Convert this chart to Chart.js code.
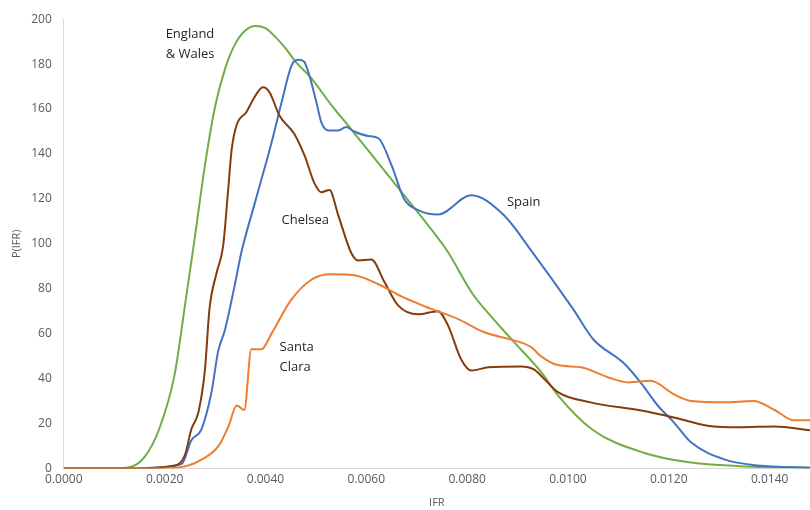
<!DOCTYPE html>
<html>
<head>
<meta charset="utf-8">
<script src="https://cdn.jsdelivr.net/npm/chart.js@4/dist/chart.umd.min.js"></script>
<style>
  body { margin: 0; background: #fff; }
  #wrap { width: 810px; height: 510px; }
</style>
</head>
<body>
<div id="wrap"><canvas id="ifrChart" width="810" height="510"></canvas></div>
<script>
// England & Wales
const ewX = [0, 0.0010, 0.0013, 0.0016, 0.0019, 0.0022, 0.0024, 0.0026, 0.0028, 0.0030, 0.0032, 0.0034, 0.0036, 0.0038, 0.0040, 0.0042, 0.0044, 0.0046, 0.0049, 0.0053, 0.0057, 0.0062, 0.0067, 0.0072, 0.0076, 0.0081, 0.0085, 0.0089, 0.0095, 0.0098, 0.0105, 0.0115, 0.0124, 0.0134, 0.0148];
const ewY = [0, 0, 0.5, 5, 18, 42, 72, 103, 135, 161, 178, 189, 195, 197, 196, 192, 187, 181, 174, 162, 151, 137, 123, 109, 97, 78, 67, 57, 42, 32.5, 17, 7, 2.7, 1, 0.3];

// Spain
const spainX = [0, 0.0015, 0.0019, 0.00234, 0.00253, 0.00273, 0.00293, 0.00306, 0.0032, 0.00339, 0.00352, 0.0038, 0.00412, 0.00432, 0.00452, 0.00467, 0.00477, 0.00487, 0.00501, 0.00511, 0.00525, 0.00545, 0.0056, 0.00576, 0.00604, 0.00624, 0.0065, 0.00675, 0.00703, 0.00742, 0.00808, 0.00873, 0.00927, 0.0101, 0.0105, 0.0111, 0.01145, 0.01178, 0.0121, 0.01244, 0.0131, 0.01376, 0.0148];
const spainY = [0, 0, 0.5, 2, 12.5, 17.4, 34, 52, 62, 81.5, 96, 119, 145, 163, 179.5, 182, 181, 175, 163, 154, 150.5, 150.5, 152, 150, 148, 147, 135, 120, 115, 113, 121.6, 112.7, 97, 71, 57.5, 47, 38, 28, 20.5, 11.6, 4, 1.3, 0.3];

// Chelsea
const chelseaX = [0, 0.0014, 0.0022, 0.0024, 0.00253, 0.00267, 0.0028, 0.00289, 0.00303, 0.00316, 0.00326, 0.00333, 0.00343, 0.00362, 0.00375, 0.00395, 0.00408, 0.00428, 0.00457, 0.00478, 0.00497, 0.00511, 0.00527, 0.00544, 0.0057, 0.00584, 0.0061, 0.00636, 0.00663, 0.00703, 0.00742, 0.00762, 0.00788, 0.00808, 0.00842, 0.00907, 0.00933, 0.00946, 0.0098, 0.01045, 0.01145, 0.0121, 0.01277, 0.0134, 0.0141, 0.0148];
const chelseaY = [0, 0, 1.3, 5.8, 17.4, 25, 44, 71, 87, 99, 124, 142, 153, 158.6, 164, 169.7, 167.5, 157, 149, 139, 127, 123, 124, 113, 96, 92.6, 93, 83, 72.6, 68.6, 70, 63.7, 48.6, 43.6, 45, 45.4, 44, 41.4, 34, 29.4, 25.8, 22.7, 19, 18.3, 18.7, 17];

// Santa Clara
const santaX = [0, 0.0020, 0.00247, 0.00274, 0.00307, 0.00327, 0.00343, 0.00358, 0.00372, 0.00392, 0.00412, 0.00451, 0.00491, 0.0053, 0.00576, 0.00624, 0.00675, 0.00729, 0.00782, 0.00834, 0.00893, 0.00927, 0.00946, 0.0098, 0.01026, 0.0108, 0.0112, 0.01164, 0.0121, 0.01244, 0.0131, 0.01368, 0.0141, 0.01448, 0.0148];
const santaY = [0, 0, 1.3, 4, 10, 19, 28, 26, 53, 53, 60, 75, 84, 86.4, 86, 82, 76, 71, 66.5, 60.6, 57, 54, 50, 46, 45, 40.5, 38.3, 39, 33, 30, 29.4, 30, 26, 21.4, 21.4];

// text labels next to the curves
const noteLines = [
  ['England', 0.00202, 193.3],
  ['& Wales', 0.00202, 184.4],
  ['Spain', 0.00879, 118.5],
  ['Chelsea', 0.00432, 110.5],
  ['Santa', 0.00428, 53.9],
  ['Clara', 0.00428, 45]
];

function toPoints(xs, ys) {
  return xs.map((x, i) => ({ x: x, y: ys[i] }));
}

function makeSet(label, xs, ys, color) {
  return {
    label: label,
    data: toPoints(xs, ys),
    borderColor: color,
    backgroundColor: color,
    borderWidth: 2,
    pointRadius: 0,
    cubicInterpolationMode: 'monotone',
    fill: false
  };
}

const curveNotes = {
  id: 'curveNotes',
  afterDatasetsDraw(chart) {
    const ctx = chart.ctx;
    const xs = chart.scales.x, ys = chart.scales.y;
    ctx.save();
    ctx.font = '13px "Open Sans"';
    ctx.fillStyle = '#262626';
    ctx.textAlign = 'left';
    ctx.textBaseline = 'middle';
    noteLines.forEach(n => {
      ctx.fillText(n[0], xs.getPixelForValue(n[1]), ys.getPixelForValue(n[2]));
    });
    ctx.restore();
  }
};

const tickFont = { family: '"Open Sans"', size: 12 };

new Chart(document.getElementById('ifrChart').getContext('2d'), {
  type: 'line',
  data: {
    datasets: [
      makeSet('Santa Clara', santaX, santaY, '#ed7d31'),
      makeSet('Chelsea', chelseaX, chelseaY, '#843c0c'),
      makeSet('Spain', spainX, spainY, '#4472c4'),
      makeSet('England & Wales', ewX, ewY, '#70ad47')
    ]
  },
  options: {
    responsive: false,
    animation: false,
    layout: { padding: { left: 0, top: 8, right: 0, bottom: 0 } },
    plugins: {
      legend: { display: false },
      tooltip: { enabled: false }
    },
    scales: {
      x: {
        type: 'linear',
        min: 0,
        max: 0.0148,
        grid: { display: false, drawTicks: false },
        border: { display: true, color: '#d9d9d9', width: 1 },
        ticks: {
          stepSize: 0.002,
          includeBounds: false,
          color: '#595959',
          font: tickFont,
          padding: 4,
          maxRotation: 0,
          callback: v => Number(v).toFixed(4)
        },
        title: { display: true, text: 'IFR', color: '#595959', font: { family: '"Open Sans"', size: 11 }, padding: { top: 5, bottom: 1 } }
      },
      y: {
        min: 0,
        max: 200,
        grid: { display: false, drawTicks: false },
        border: { display: true, color: '#d9d9d9', width: 1 },
        ticks: {
          stepSize: 20,
          color: '#595959',
          font: tickFont,
          padding: 12
        },
        title: { display: true, text: 'P(IFR)', color: '#595959', font: { family: '"Open Sans"', size: 11 }, padding: { top: 10, bottom: -4 } }
      }
    }
  },
  plugins: [curveNotes]
});
</script>
</body>
</html>
